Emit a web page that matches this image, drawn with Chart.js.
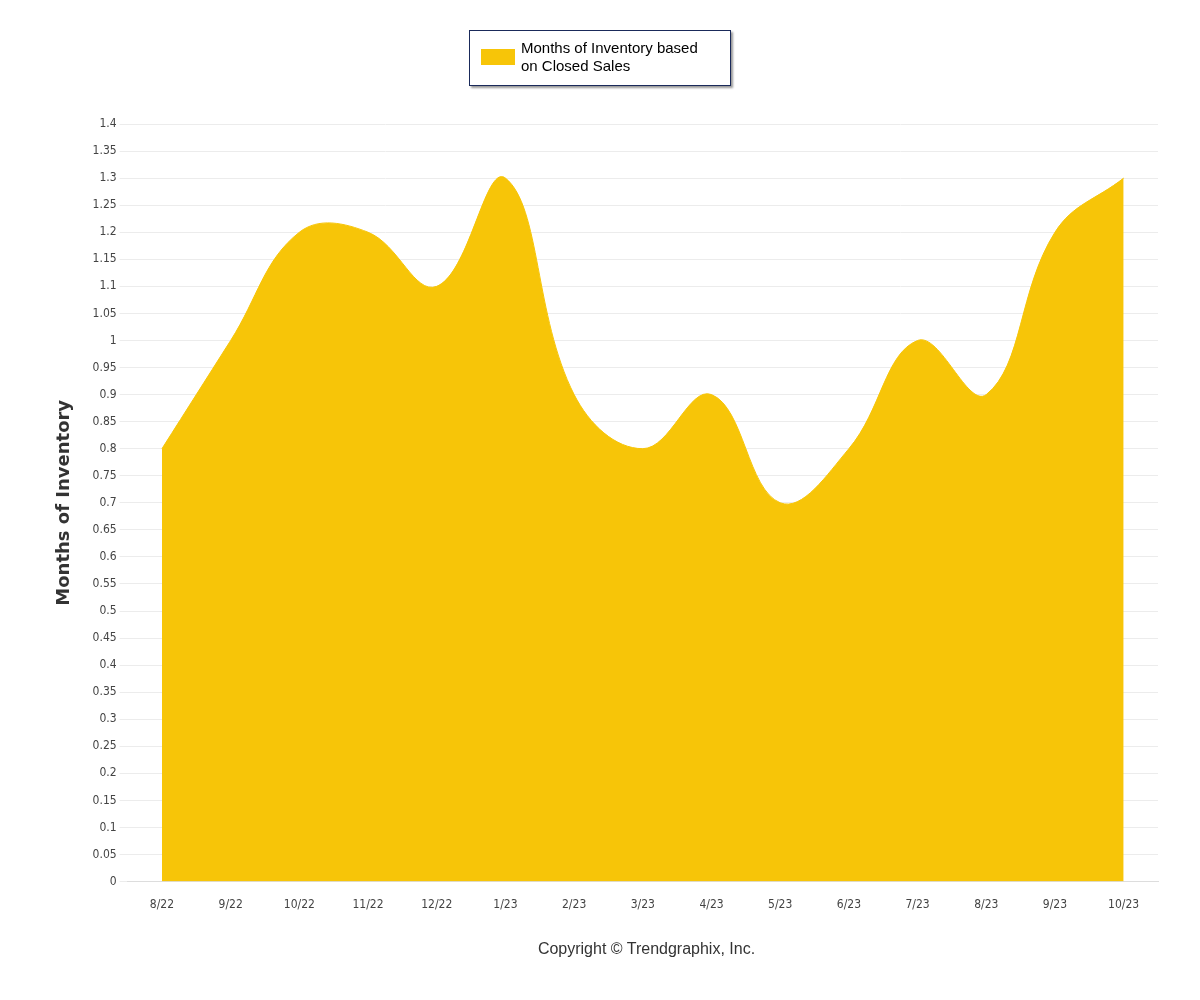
<!DOCTYPE html>
<html><head><meta charset="utf-8">
<script src="https://cdn.jsdelivr.net/npm/chart.js@4/dist/chart.umd.min.js"></script>
<style>
body{margin:0;background:#fff;width:1200px;height:1000px;position:relative;font-family:"Liberation Sans",Arial,sans-serif}
#wrap{position:absolute;left:0;top:0;width:1200px;height:1000px}
#leg{position:absolute;left:469px;top:30px;width:260px;height:54px;border:1px solid #1a2a5a;box-shadow:2px 2px 2px #999;background:#fff;font-size:15px;color:#000}
#leg .sw{position:absolute;left:11px;top:18px;width:34px;height:16px;background:#F7C508}
#leg .tx{position:absolute;left:51px;top:8px;line-height:18px}
#copy{position:absolute;top:940px;left:0;width:1293px;text-align:center;font-size:16px;color:#333}
</style></head><body>
<div id="wrap"><canvas id="c" width="1200" height="1000"></canvas></div>
<div id="leg"><div class="sw"></div><div class="tx">Months of Inventory based<br>on Closed Sales</div></div>
<div id="copy">Copyright © Trendgraphix, Inc.</div>
<script>
const categories=["8/22","9/22","10/22","11/22","12/22","1/23","2/23","3/23","4/23","5/23","6/23","7/23","8/23","9/23","10/23"];
const values=[0.8,1.0,1.2,1.2,1.1,1.3,0.9,0.8,0.9,0.7,0.8,1.0,0.9,1.2,1.3];
new Chart(document.getElementById('c'),{type:'line',
data:{labels:categories,datasets:[{data:values,fill:'origin',backgroundColor:'#F7C508',borderColor:'#F7C508',borderWidth:1,tension:0.4,pointRadius:0}]},
options:{responsive:false,animation:false,
layout:{padding:{top:124,bottom:80,right:42,left:50}},
plugins:{legend:{display:false},tooltip:{enabled:false}},
scales:{
x:{offset:true,grid:{display:false,drawTicks:true},border:{color:'#ddd'},ticks:{color:'#444',font:{size:12,family:'DejaVu Sans Condensed'},padding:8}},
y:{min:0,max:1.4,ticks:{stepSize:0.05,autoSkip:false,color:'#444',font:{size:12,family:'DejaVu Sans Condensed'},callback:v=>Math.round(v*100)/100},
grid:{color:'#ececec'},border:{display:false},
title:{display:true,text:'Months of Inventory',color:'#333',font:{size:18,weight:'bold',family:'DejaVu Sans'},padding:{bottom:14}}}}}});
</script></body></html>
